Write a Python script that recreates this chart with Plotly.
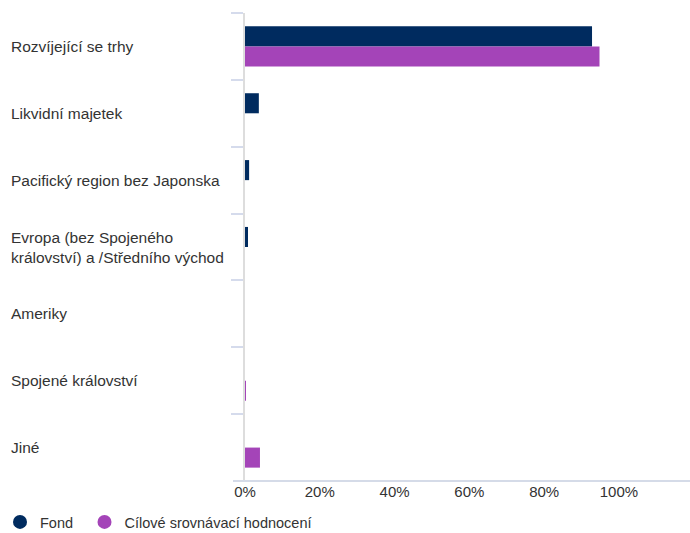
import plotly.graph_objects as go

categories = [
    "Rozvíjející se trhy",
    "Likvidní majetek",
    "Pacifický region bez Japonska",
    "Evropa (bez Spojeného<br>království) a /Středního východ",
    "Ameriky",
    "Spojené království",
    "Jiné",
]
fond = [92.8, 3.7, 1.1, 0.8, 0.0, 0.0, 0.0]
benchmark = [94.8, 0.0, 0.0, 0.0, 0.0, 0.2, 4.0]
tick_vals = [0, 20, 40, 60, 80, 100]
tick_text = ["0%", "20%", "40%", "60%", "80%", "100%"]

FOND_COLOR = "#002b5f"
BENCH_COLOR = "#a444b8"
FONT = "Liberation Sans, Arial, sans-serif"

W, H = 690, 533

fig = go.Figure()
fig.add_trace(go.Bar(y=categories, x=fond, orientation="h", name="Fond",
                     marker=dict(color=FOND_COLOR, line=dict(width=0)),
                     showlegend=False))
fig.add_trace(go.Bar(y=categories, x=benchmark, orientation="h",
                     name="Cílové srovnávací hodnocení",
                     marker=dict(color=BENCH_COLOR, line=dict(width=0)),
                     showlegend=False))
# legend entries with circle markers
fig.add_trace(go.Scatter(x=[None], y=[None], mode="markers", name="Fond",
                         legend="legend",
                         marker=dict(color=FOND_COLOR, size=14, symbol="circle")))
fig.add_trace(go.Scatter(x=[None], y=[None], mode="markers",
                         name="Cílové srovnávací hodnocení", legend="legend2",
                         marker=dict(color=BENCH_COLOR, size=14, symbol="circle")))

for c in categories:
    fig.add_annotation(x=0, xref="x domain", xshift=-236, y=c, yref="y",
                       text=c, showarrow=False, xanchor="left", align="left",
                       font=dict(family=FONT, size=15.5, color="#333333"))

fig.add_shape(type="line", xref="paper", yref="paper",
              x0=-12 / 445, x1=1, y0=0, y1=0,
              line=dict(color="#d5dbe8", width=2))

legend_common = dict(orientation="h", xref="container", yref="container",
                     xanchor="left", yanchor="middle",
                     font=dict(family=FONT, size=14.5, color="#333333"),
                     itemwidth=30, bgcolor="rgba(0,0,0,0)")

fig.update_layout(
    width=W, height=H,
    margin=dict(l=245, r=0, t=13, b=52, autoexpand=False),
    paper_bgcolor="white", plot_bgcolor="white",
    barmode="group", bargap=0.4, bargroupgap=0,
    font=dict(family=FONT, size=15, color="#333333"),
    xaxis=dict(range=[0, 119], tickvals=tick_vals, ticktext=tick_text,
               showgrid=False, zeroline=False, showline=False,
               tickfont=dict(size=15, color="#333333"), ticks=""),
    yaxis=dict(categoryorder="array", categoryarray=categories,
               autorange="reversed", showticklabels=False,
               showgrid=False, zeroline=False,
               showline=True, linecolor="#dddddd", linewidth=2,
               ticks="outside", tickson="boundaries", ticklen=12,
               tickcolor="#d5dbec", tickwidth=2),
    legend=dict(legend_common, x=0, y=11 / H),
    legend2=dict(legend_common, x=84.5 / W, y=11 / H),
)

fig.write_html(
    "out.html",
    config={"displayModeBar": False},
    post_script="document.body.style.margin='0';"
                "document.body.style.overflow='hidden';",
)
